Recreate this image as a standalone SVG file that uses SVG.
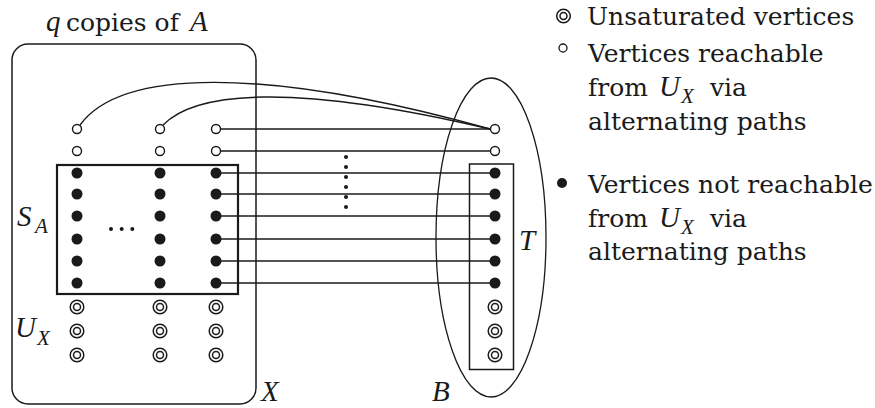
<svg xmlns="http://www.w3.org/2000/svg" xmlns:xlink="http://www.w3.org/1999/xlink" width="875" height="408" viewBox="0 0 875 408">
<style>
.rm{font-family:"DejaVu Serif","Liberation Serif",serif;font-size:25px;fill:#1a1a1a}
.it{font-family:"Liberation Serif","DejaVu Serif",serif;font-style:italic;font-size:29px;fill:#1a1a1a}
.sub{font-family:"Liberation Serif","DejaVu Serif",serif;font-style:italic;font-size:21px;fill:#1a1a1a}
.ln{stroke:#1a1a1a;stroke-width:1.4;fill:none}
.box{stroke:#1a1a1a;stroke-width:1.5;fill:none}
</style>
<defs>
<circle id="vo" r="4.5" fill="#fff" stroke="#1a1a1a" stroke-width="1.4"/>
<circle id="vf" r="5.5" fill="#1a1a1a"/>
<g id="vd"><circle r="6.8" fill="#fff" stroke="#1a1a1a" stroke-width="1.5"/><circle r="3.5" fill="#fff" stroke="#1a1a1a" stroke-width="1.5"/></g>
<circle id="dot" r="2" fill="#1a1a1a"/>
</defs>

<g id="X">
<rect class="box" x="12" y="44" width="244" height="360" rx="16" ry="16"/>
<text class="it" x="46" y="31">q</text><text class="rm" x="66" y="31">copies of</text><text class="it" x="190" y="31">A</text>
<text class="it" x="261" y="401">X</text>
</g>
<g id="B">
<ellipse class="box" cx="491" cy="237.5" rx="55" ry="159.5" style="stroke-width:1.3"/>
<text class="it" x="432" y="401">B</text>
</g>
<g id="SA">
<rect x="57" y="165" width="181" height="129" fill="none" stroke="#1a1a1a" stroke-width="2.2"/>
<text class="it" x="17" y="226">S</text><text class="sub" x="35" y="233">A</text>
</g>
<g id="UX">
<text class="it" x="15" y="337">U</text><text class="sub" x="37" y="345">X</text>
</g>
<g id="T">
<rect class="box" x="469.5" y="164" width="44" height="205.5"/>
<text class="it" x="519" y="250">T</text>
</g>

<g id="connectors">
<path class="ln" d="M80 125 C120 70 260 65 490 129"/>
<path class="ln" d="M163 125 C195 92 290 82 490 129"/>
<line class="ln" x1="216" y1="129" x2="495" y2="129"/>
<line class="ln" x1="216" y1="151" x2="495" y2="151"/>
<line class="ln" x1="216" y1="173" x2="495" y2="173"/>
<line class="ln" x1="216" y1="194" x2="495" y2="194"/>
<line class="ln" x1="216" y1="216" x2="495" y2="216"/>
<line class="ln" x1="216" y1="239" x2="495" y2="239"/>
<line class="ln" x1="216" y1="261" x2="495" y2="261"/>
<line class="ln" x1="216" y1="283" x2="495" y2="283"/>
</g>

<g id="dots-h"><use xlink:href="#dot" x="111" y="229"/><use xlink:href="#dot" x="121.7" y="229"/><use xlink:href="#dot" x="132.3" y="229"/></g>
<g id="dots-v"><use xlink:href="#dot" x="346" y="157"/><use xlink:href="#dot" x="346" y="167"/><use xlink:href="#dot" x="346" y="177"/><use xlink:href="#dot" x="346" y="187"/><use xlink:href="#dot" x="346" y="197"/><use xlink:href="#dot" x="346" y="207"/></g>

<g id="col1">
<use xlink:href="#vo" x="77" y="129"/><use xlink:href="#vo" x="77" y="151"/>
<use xlink:href="#vf" x="77" y="173"/><use xlink:href="#vf" x="77" y="194"/><use xlink:href="#vf" x="77" y="216"/><use xlink:href="#vf" x="77" y="239"/><use xlink:href="#vf" x="77" y="261"/><use xlink:href="#vf" x="77" y="283"/>
<use xlink:href="#vd" x="77" y="307"/><use xlink:href="#vd" x="77" y="331"/><use xlink:href="#vd" x="77" y="355"/>
</g>
<g id="col2">
<use xlink:href="#vo" x="160" y="129"/><use xlink:href="#vo" x="160" y="151"/>
<use xlink:href="#vf" x="160" y="173"/><use xlink:href="#vf" x="160" y="194"/><use xlink:href="#vf" x="160" y="216"/><use xlink:href="#vf" x="160" y="239"/><use xlink:href="#vf" x="160" y="261"/><use xlink:href="#vf" x="160" y="283"/>
<use xlink:href="#vd" x="160" y="307"/><use xlink:href="#vd" x="160" y="331"/><use xlink:href="#vd" x="160" y="355"/>
</g>
<g id="col3">
<use xlink:href="#vo" x="216" y="129"/><use xlink:href="#vo" x="216" y="151"/>
<use xlink:href="#vf" x="216" y="173"/><use xlink:href="#vf" x="216" y="194"/><use xlink:href="#vf" x="216" y="216"/><use xlink:href="#vf" x="216" y="239"/><use xlink:href="#vf" x="216" y="261"/><use xlink:href="#vf" x="216" y="283"/>
<use xlink:href="#vd" x="216" y="307"/><use xlink:href="#vd" x="216" y="331"/><use xlink:href="#vd" x="216" y="355"/>
</g>
<g id="colB">
<use xlink:href="#vo" x="495" y="129"/><use xlink:href="#vo" x="495" y="151"/>
<use xlink:href="#vf" x="495" y="173"/><use xlink:href="#vf" x="495" y="194"/><use xlink:href="#vf" x="495" y="216"/><use xlink:href="#vf" x="495" y="239"/><use xlink:href="#vf" x="495" y="261"/><use xlink:href="#vf" x="495" y="283"/>
<use xlink:href="#vd" x="495" y="307"/><use xlink:href="#vd" x="495" y="331"/><use xlink:href="#vd" x="495" y="355"/>
</g>

<g id="legend">
<use xlink:href="#vd" x="563.5" y="16"/>
<text class="rm" x="587" y="25">Unsaturated vertices</text>
<circle cx="563" cy="48" r="4" fill="#fff" stroke="#1a1a1a" stroke-width="1.3"/>
<text class="rm" x="588" y="62">Vertices reachable</text>
<text class="rm" x="588" y="96">from</text><text class="it" x="659" y="96">U</text><text class="sub" x="681" y="103">X</text><text class="rm" x="710" y="96">via</text>
<text class="rm" x="588" y="130">alternating paths</text>
<circle cx="562" cy="183" r="5" fill="#1a1a1a"/>
<text class="rm" x="588" y="193">Vertices not reachable</text>
<text class="rm" x="588" y="227">from</text><text class="it" x="659" y="227">U</text><text class="sub" x="681" y="234">X</text><text class="rm" x="710" y="227">via</text>
<text class="rm" x="588" y="260">alternating paths</text>
</g>
</svg>
